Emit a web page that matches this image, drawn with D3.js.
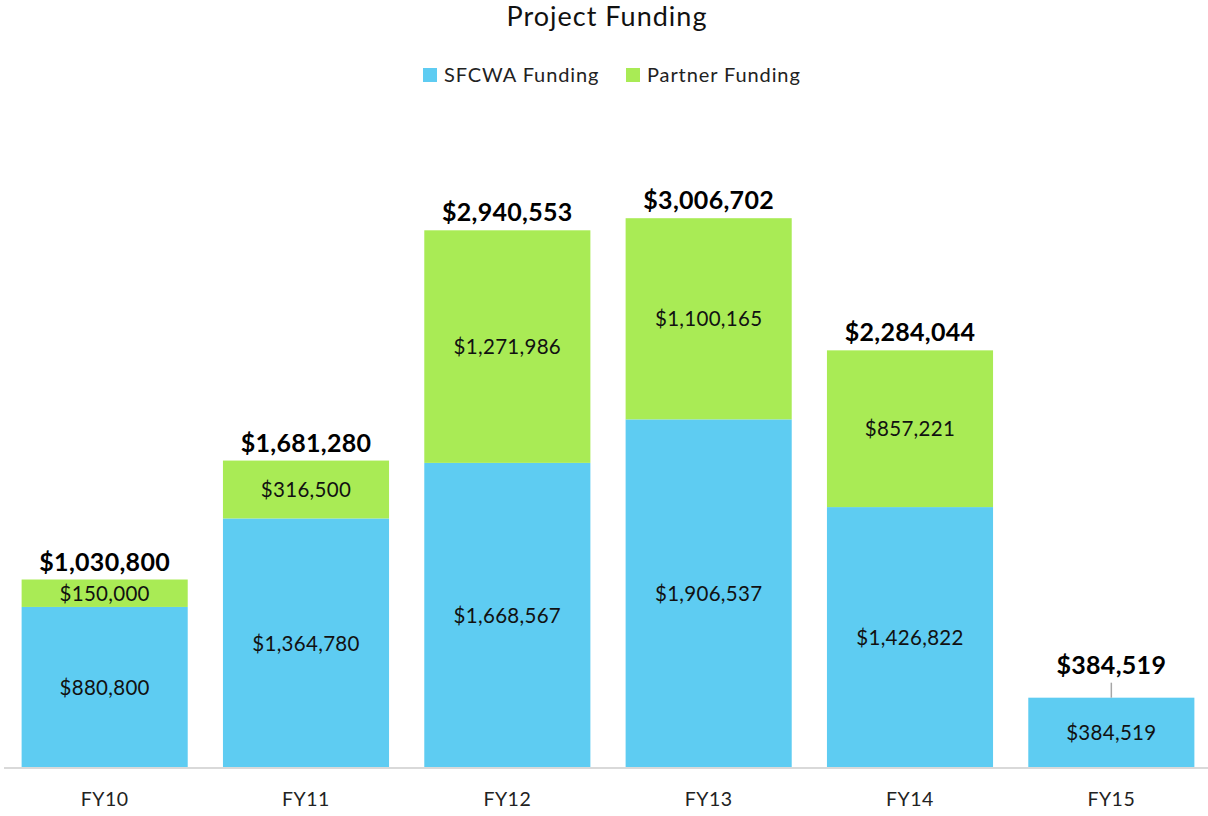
<!DOCTYPE html>
<html><head><meta charset="utf-8">
<script src="https://cdn.jsdelivr.net/npm/d3@7"></script>
<style>body{margin:0;background:#fff}svg{display:block;font-family:Lato,"Open Sans",sans-serif}</style>
</head><body><svg id="c" width="1208" height="816"></svg>
<script>
const categories = ["FY10","FY11","FY12","FY13","FY14","FY15"];
const sfcwa = [880800,1364780,1668567,1906537,1426822,384519];
const partner = [150000,316500,1271986,1100165,857221,0];
const totals = [1030800,1681280,2940553,3006702,2284044,384519];
const seriesNames = ["SFCWA Funding","Partner Funding"];
const colors = ["#5ECCF2","#A9EB55"];

const svg = d3.select("#c");
const fmt = v => "$" + d3.format(",")(v);
const x = d3.scaleBand().domain(categories).range([4,1212]).paddingInner(0.175).paddingOuter(0.0875);
const y = d3.scaleLinear().domain([0,3500000]).range([768,128]);

const rows = categories.map((c,i)=>({cat:c, sfcwa:sfcwa[i], partner:partner[i]}));
const stack = d3.stack().keys(["sfcwa","partner"])(rows);

stack.forEach((layer,li)=>{
  const g = svg.append("g");
  layer.forEach((d,i)=>{
    if (d[1]-d[0] <= 0) return;
    g.append("rect").attr("x",x(categories[i])).attr("width",x.bandwidth())
      .attr("y",y(d[1])).attr("height",y(d[0])-y(d[1])).attr("fill",colors[li]);
    g.append("text").attr("x",x(categories[i])+x.bandwidth()/2)
      .attr("y",(y(d[0])+y(d[1]))/2).attr("dy","0.36em").attr("text-anchor","middle")
      .attr("font-size",20.5).attr("letter-spacing",0.3).attr("fill","#111").text(fmt(d[1]-d[0]));
  });
});

// axis
const axisG = svg.append("g").attr("transform","translate(0,768)")
  .call(d3.axisBottom(x).tickSize(0).tickPadding(24));
axisG.select(".domain").attr("stroke","#d9d9d9").attr("stroke-width",2).attr("d","M4,0H1208");
axisG.selectAll("text").attr("font-size",19.5).attr("letter-spacing",0.5).attr("fill","#222")
  .attr("font-family","Lato,'Open Sans',sans-serif");

// totals
totals.forEach((t,i)=>{
  const cx = x(categories[i])+x.bandwidth()/2;
  const top = y(t);
  const off = i===totals.length-1 ? 33 : 18;
  if (off > 20) {
    svg.append("line").attr("x1",cx).attr("x2",cx).attr("y1",top-15).attr("y2",top)
      .attr("stroke","#a6a6a6").attr("stroke-width",1.5);
  }
  svg.append("text").attr("x",cx).attr("y",top-off).attr("dy","0.36em")
    .attr("text-anchor","middle").attr("font-size",25).attr("font-weight","bold")
    .attr("letter-spacing",0.3).attr("fill","#000").text(fmt(t));
});

// title
svg.append("text").attr("x",607).attr("y",16).attr("dy","0.36em").attr("text-anchor","middle")
  .attr("font-size",27).attr("letter-spacing",1).attr("fill","#111").text("Project Funding");

// legend
const leg = [{x:423},{x:626}];
seriesNames.forEach((n,i)=>{
  svg.append("rect").attr("x",leg[i].x).attr("y",68).attr("width",14).attr("height",14).attr("fill",colors[i]);
  svg.append("text").attr("x",leg[i].x+21).attr("y",75).attr("dy","0.36em")
    .attr("font-size",20).attr("letter-spacing",0.9).attr("fill","#222").text(n);
});
</script></body></html>
